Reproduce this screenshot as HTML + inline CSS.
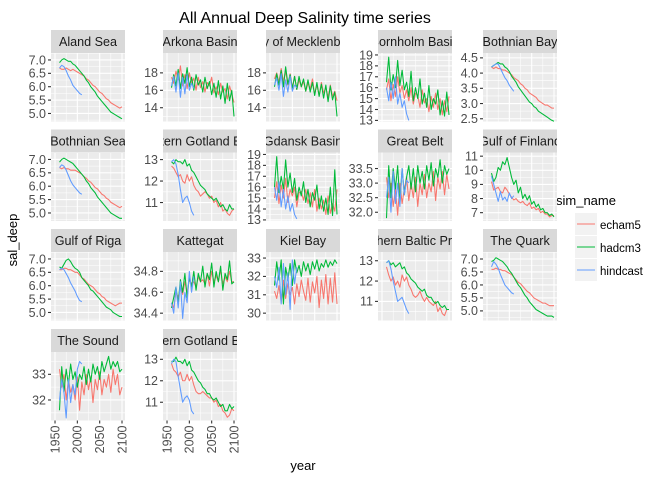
<!DOCTYPE html>
<html><head><meta charset="utf-8"><style>
html,body{margin:0;padding:0;background:#fff;}
svg{display:block;font-family:"Liberation Sans",Arial,sans-serif;}
</style></head><body>
<svg id="chart" width="672" height="480" viewBox="0 0 672 480">
<text x="305" y="23" text-anchor="middle" font-size="16" fill="#000">All Annual Deep Salinity time series</text>
<text transform="translate(17,240) rotate(-90)" text-anchor="middle" font-size="13" fill="#000">sal_deep</text>
<text x="303" y="470" text-anchor="middle" font-size="13" fill="#000">year</text>
<g>
<text x="556" y="205" font-size="13" fill="#000">sim_name</text>
<g><rect x="575" y="213" width="22" height="22" fill="#F2F2F2"/><line x1="577" x2="595" y1="224" y2="224" stroke="#F8766D" stroke-width="1.1"/><text x="600" y="229" font-size="11.5" fill="#000">echam5</text></g>
<g><rect x="575" y="236" width="22" height="22" fill="#F2F2F2"/><line x1="577" x2="595" y1="247" y2="247" stroke="#00BA38" stroke-width="1.1"/><text x="600" y="252" font-size="11.5" fill="#000">hadcm3</text></g>
<g><rect x="575" y="259" width="22" height="22" fill="#F2F2F2"/><line x1="577" x2="595" y1="270" y2="270" stroke="#619CFF" stroke-width="1.1"/><text x="600" y="275" font-size="11.5" fill="#000">hindcast</text></g>
</g>
</svg>
<script>
const years = [1960,1965,1970,1975,1980,1985,1990,1995,2000,2005,2010,2015,2020,2025,2030,2035,2040,2045,2050,2055,2060,2065,2070,2075,2080,2085,2090,2095,2100];
const hindYears = [1960,1965,1970,1975,1980,1985,1990,1995,2000,2005,2010];
const xTicks = [1950,2000,2050,2100];
const panelNames = ["Aland Sea","Arkona Basin","Bay of Mecklenburg","Bornholm Basin","Bothnian Bay","Bothnian Sea","Western Gotland Basin","Gdansk Basin","Great Belt","Gulf of Finland","Gulf of Riga","Kattegat","Kiel Bay","Northern Baltic Proper","The Quark","The Sound","Eastern Gotland Basin"];
const yDomains = [[4.70,7.26],[12.42,20.28],[12.42,20.28],[12.9,19.18],[2.41,4.66],[4.70,7.26],[10.14,13.33],[12.9,19.18],[31.7,34.05],[6.41,11.26],[4.70,7.26],[34.33,34.985],[29.6,33.33],[10.06,13.43],[4.63,7.27],[31.2,33.87],[10.15,13.34]];
const yTicks = [[5.0,5.5,6.0,6.5,7.0],[14,16,18],[14,16,18],[13,14,15,16,17,18,19],[2.5,3.0,3.5,4.0,4.5],[5.0,5.5,6.0,6.5,7.0],[11,12,13],[13,14,15,16,17,18,19],[32.0,32.5,33.0,33.5],[7,8,9,10,11],[5.0,5.5,6.0,6.5,7.0],[34.4,34.6,34.8],[30,31,32,33],[11,12,13],[5.0,5.5,6.0,6.5,7.0],[32,33],[11,12,13]];
const yTickLabels = [["5.0","5.5","6.0","6.5","7.0"],["14","16","18"],["14","16","18"],["13","14","15","16","17","18","19"],["2.5","3.0","3.5","4.0","4.5"],["5.0","5.5","6.0","6.5","7.0"],["11","12","13"],["13","14","15","16","17","18","19"],["32.0","32.5","33.0","33.5"],["7","8","9","10","11"],["5.0","5.5","6.0","6.5","7.0"],["34.4","34.6","34.8"],["30","31","32","33"],["11","12","13"],["5.0","5.5","6.0","6.5","7.0"],["32","33"],["11","12","13"]];
const echam5 = [
[6.7,6.65,6.65,6.7,6.65,6.6,6.65,6.6,6.55,6.5,6.45,6.4,6.3,6.25,6.15,6.05,6.0,5.9,5.8,5.75,5.65,5.55,5.5,5.4,5.35,5.3,5.25,5.2,5.25],
[17.5,16.8,18.2,17.2,18.8,16.5,17.8,16.2,18.0,16.8,17.4,16.0,17.5,16.3,17.0,15.8,16.9,16.5,17.5,15.7,16.4,15.5,16.8,15.8,16.2,15.0,16.5,15.6,14.6],
[17.3,18.0,16.9,18.5,17.0,18.2,16.6,17.9,16.3,17.6,16.1,17.2,16.4,17.0,15.9,16.8,16.2,17.3,15.6,16.6,15.4,16.9,15.7,16.3,15.2,16.6,15.3,15.9,14.8],
[15.8,16.8,14.8,16.3,15.2,17.0,15.5,16.2,15.0,15.8,14.8,16.0,14.5,15.5,15.3,14.2,15.8,14.6,15.0,13.8,15.2,14.2,15.5,14.0,15.0,13.5,14.8,13.8,15.2],
[4.2,4.15,4.2,4.15,4.15,4.1,4.1,4.05,4.0,3.95,3.85,3.8,3.75,3.65,3.6,3.5,3.45,3.35,3.3,3.25,3.2,3.1,3.05,3.0,2.95,2.95,2.9,2.85,2.85],
[6.7,6.65,6.7,6.65,6.65,6.6,6.6,6.6,6.55,6.5,6.45,6.35,6.3,6.2,6.15,6.05,5.95,5.9,5.8,5.7,5.65,5.55,5.5,5.4,5.35,5.3,5.25,5.2,5.25],
[12.7,12.6,12.4,12.2,12.3,12.0,11.9,12.3,12.0,12.2,11.8,11.6,11.5,11.3,11.4,11.5,11.4,11.2,11.3,11.0,11.1,10.8,11.0,10.6,10.7,10.5,10.4,10.6,10.7],
[15.0,16.5,14.5,16.2,15.0,16.8,14.6,15.8,15.2,16.0,14.2,15.5,15.6,14.8,15.8,14.5,15.5,14.2,15.8,13.8,15.0,14.0,14.8,13.5,15.2,13.6,14.5,13.8,15.8],
[33.2,32.5,33.0,32.2,32.8,31.9,33.0,32.3,32.8,33.2,32.4,33.0,32.5,33.2,32.2,33.0,32.6,33.3,32.5,33.0,32.7,33.4,32.4,33.2,32.8,33.4,32.6,33.3,32.8],
[9.2,8.6,8.7,8.8,8.5,8.4,8.8,8.6,8.3,8.1,7.9,8.0,7.8,7.7,7.8,7.6,7.5,7.7,7.3,7.4,7.2,7.3,7.0,7.1,6.9,6.9,6.7,6.8,6.8],
[6.6,6.6,6.65,6.65,6.6,6.6,6.55,6.5,6.5,6.4,6.3,6.25,6.15,6.05,6.0,5.95,5.85,5.75,5.7,5.6,5.55,5.45,5.4,5.35,5.3,5.25,5.3,5.35,5.35],
[34.5,34.45,34.6,34.55,34.65,34.58,34.7,34.6,34.72,34.68,34.7,34.65,34.75,34.7,34.72,34.68,34.78,34.66,34.8,34.7,34.76,34.7,34.82,34.68,34.75,34.7,34.8,34.7,34.7],
[31.2,30.8,31.5,30.6,31.8,30.8,31.6,31.0,31.4,30.5,31.6,30.9,31.8,31.2,30.7,31.9,30.6,31.7,31.1,32.0,30.3,31.8,30.8,32.1,30.5,31.9,30.6,32.2,30.5],
[12.7,12.3,12.0,12.2,11.8,12.0,11.7,12.3,12.0,12.2,11.8,11.6,11.3,11.2,11.3,11.5,11.2,11.0,11.2,11.0,10.9,10.8,11.0,10.5,10.7,10.4,10.3,10.6,10.6],
[6.6,6.6,6.65,6.6,6.6,6.55,6.55,6.5,6.45,6.4,6.3,6.2,6.1,6.05,5.95,5.85,5.75,5.7,5.6,5.5,5.45,5.4,5.35,5.3,5.3,5.25,5.2,5.2,5.2],
[33.2,32.5,33.0,32.0,32.8,32.3,32.6,32.0,32.9,31.6,32.7,32.2,33.0,32.4,32.9,31.9,32.8,32.4,33.1,32.2,32.8,32.5,33.0,32.3,33.2,32.6,33.0,32.2,32.5],
[12.8,12.5,12.4,12.2,12.4,12.0,12.0,12.3,12.0,12.2,11.8,11.5,11.4,11.4,11.5,11.4,11.3,11.2,11.2,11.0,11.1,10.8,10.9,10.6,10.5,10.3,10.4,10.7,10.6]];
const hadcm3 = [
[6.9,7.0,7.05,7.0,6.95,6.95,6.85,6.8,6.7,6.6,6.5,6.4,6.25,6.15,6.0,5.9,5.8,5.65,5.55,5.45,5.35,5.25,5.15,5.05,5.0,4.95,4.9,4.85,4.8],
[16.3,17.8,16.5,18.4,16.2,17.9,16.8,18.6,16.4,17.5,16.0,17.8,16.6,17.2,15.8,17.5,16.2,17.0,15.5,16.8,15.2,17.1,15.0,16.5,14.5,16.8,14.8,16.0,13.0],
[16.4,17.9,16.6,18.3,16.4,18.7,16.7,17.8,16.2,17.6,16.1,17.6,16.4,17.3,15.9,17.2,15.8,16.9,15.4,16.9,15.3,16.7,15.1,16.6,14.7,16.5,14.9,15.8,13.0],
[16.5,18.8,15.8,17.2,16.0,18.5,16.2,17.6,15.8,16.5,15.2,17.5,14.8,16.0,15.0,16.8,14.5,15.5,14.2,16.2,14.0,15.0,14.5,15.8,13.5,14.8,13.4,15.6,13.5],
[4.2,4.25,4.3,4.35,4.3,4.3,4.2,4.15,4.05,3.9,3.8,3.7,3.55,3.45,3.35,3.25,3.15,3.05,3.0,2.9,2.85,2.75,2.7,2.65,2.6,2.55,2.5,2.45,2.42],
[6.9,7.0,7.05,7.0,6.95,6.9,6.85,6.75,6.65,6.55,6.45,6.35,6.2,6.1,5.95,5.85,5.75,5.6,5.5,5.4,5.3,5.2,5.1,5.0,4.95,4.9,4.85,4.8,4.8],
[12.9,12.8,13.0,12.9,12.9,12.8,13.0,12.7,12.8,12.5,12.4,12.2,12.0,11.8,11.7,11.6,11.4,11.3,11.2,11.1,11.2,11.0,10.8,10.9,10.7,10.6,10.9,10.7,10.7],
[16.0,18.8,15.5,17.0,15.8,18.5,16.0,17.3,15.5,16.8,14.8,16.0,15.2,16.5,14.6,15.8,14.2,15.5,14.8,16.2,14.0,15.2,13.8,15.0,13.5,16.0,13.4,17.6,13.5],
[31.8,33.6,32.5,33.5,32.8,33.6,32.3,33.5,32.6,33.2,33.6,32.8,33.5,32.7,33.6,33.0,33.4,32.8,33.6,33.1,33.7,32.9,33.5,33.2,33.8,33.0,33.6,33.3,33.5],
[9.8,9.2,9.5,10.2,10.0,10.6,10.4,10.9,10.2,9.5,9.0,9.3,8.4,8.8,8.0,8.3,7.9,8.2,7.6,7.8,7.4,7.6,7.2,7.3,7.0,7.0,6.8,6.9,6.7],
[6.7,6.65,6.8,6.95,7.0,6.9,6.75,6.65,6.6,6.5,6.3,6.2,6.1,6.0,5.85,5.8,5.7,5.6,5.5,5.4,5.3,5.2,5.15,5.1,5.0,4.95,4.9,4.85,4.85],
[34.45,34.55,34.65,34.5,34.72,34.6,34.78,34.55,34.75,34.65,34.8,34.62,34.78,34.7,34.85,34.65,34.78,34.72,34.88,34.65,34.8,34.7,34.85,34.62,34.78,34.72,34.9,34.68,34.7],
[31.5,32.8,31.8,32.9,30.5,32.5,31.8,32.7,31.5,32.9,32.2,32.6,32.0,32.8,32.3,32.7,32.1,32.8,32.4,32.9,32.3,32.7,32.5,32.9,32.5,32.8,32.6,32.9,32.7],
[12.9,13.0,12.8,12.9,12.7,12.8,12.9,12.6,12.7,12.4,12.3,12.1,12.0,11.9,11.7,11.6,11.5,11.6,11.3,11.2,11.2,11.0,10.9,11.0,10.8,10.7,10.8,10.6,10.6],
[6.9,6.95,7.05,7.0,6.95,6.9,6.8,6.7,6.55,6.45,6.3,6.15,6.0,5.9,5.75,5.6,5.5,5.35,5.25,5.15,5.05,5.0,4.95,4.9,4.85,4.8,4.8,4.8,4.75],
[31.6,33.3,32.3,33.2,32.6,33.4,32.8,33.1,32.5,33.0,32.8,33.3,32.6,33.2,32.7,33.4,33.0,33.3,32.8,33.5,33.1,33.4,33.7,33.2,33.5,33.3,33.5,33.1,33.2],
[12.9,12.9,13.1,12.9,12.9,12.8,13.0,12.7,12.9,12.5,12.4,12.2,12.0,11.9,11.7,11.6,11.4,11.4,11.2,11.1,11.2,11.0,10.8,10.9,10.6,10.6,10.9,10.7,10.8]];
const hindcast = [
[6.7,6.8,6.75,6.6,6.4,6.25,6.05,5.95,5.85,5.75,5.7],
[16.5,17.6,15.8,18.0,15.2,17.5,15.6,17.8,16.0,16.8,16.2],
[16.6,17.4,16.0,17.9,15.3,17.2,15.8,17.6,15.9,16.6,16.3],
[16.0,14.8,16.5,15.0,17.0,14.5,15.5,14.2,14.8,13.6,13.0],
[4.2,4.25,4.3,4.3,4.15,4.0,3.85,3.75,3.6,3.5,3.4],
[6.7,6.8,6.75,6.6,6.4,6.2,6.05,5.95,5.85,5.75,5.7],
[12.9,13.0,12.8,12.3,11.6,11.0,11.2,11.3,11.0,10.6,10.4],
[16.0,14.8,16.5,14.2,15.8,14.0,15.2,13.8,14.5,13.5,13.1],
[32.5,33.2,32.0,33.4,32.3,33.0,32.2,33.5,32.6,33.1,33.0],
[9.6,9.0,8.4,7.8,8.5,7.9,8.1,7.8,8.4,8.0,8.2],
[6.6,6.65,6.6,6.45,6.3,6.1,5.95,5.8,5.6,5.45,5.4],
[34.5,34.4,34.65,34.45,34.7,34.35,34.6,34.5,34.8,34.6,34.75],
[32.0,31.4,32.5,30.5,32.7,31.0,32.2,30.2,32.9,31.6,32.5],
[12.9,13.0,12.6,12.0,11.5,11.0,11.1,11.2,10.9,10.6,10.4],
[6.7,6.9,6.8,6.65,6.4,6.2,6.0,5.9,5.8,5.7,5.65],
[32.0,32.8,32.3,31.3,32.8,31.9,32.6,32.2,33.2,33.5,33.4],
[12.8,13.0,12.9,12.2,11.6,11.0,11.2,11.3,11.1,10.6,10.45]];

const NS = "http://www.w3.org/2000/svg";
const svg = document.getElementById("chart");
const colX = [51,163,266,378,483];
const rowY = [30,129.5,229,329];
const PW = 74, SH = 23, PH = 68.5;
const X0 = 1941, X1 = 2106.7;
function mk(tag, attrs, parent){ const e=document.createElementNS(NS,tag); for(const k in attrs) e.setAttribute(k,attrs[k]); (parent||svg).appendChild(e); return e; }
function slug(s){ return s.toLowerCase().replace(/[^a-z0-9]+/g,'-'); }

panelNames.forEach((name,i)=>{
  const c=i%5, r=Math.floor(i/5);
  const px=colX[c], sy=rowY[r], py=sy+SH;
  const g=mk("g",{});
  
  
  const xs = v => px + (v-X0)/(X1-X0)*PW;
  const [d0,d1]=yDomains[i];
  const ys = v => py + PH - (v-d0)/(d1-d0)*PH;
  const strip=mk("svg",{x:px,y:sy,width:PW,height:SH},g);
  
  
  mk("rect",{x:0,y:0,width:PW,height:SH,fill:"#D9D9D9"},strip);
  const st=mk("text",{x:PW/2,y:16,"text-anchor":"middle","font-size":"12.6",fill:"#1A1A1A"},strip);
  st.textContent=name;
  mk("rect",{x:px,y:py,width:PW,height:PH,fill:"#EBEBEB"},g);
  for(let k=0;k<xTicks.length;k++){
    const mid = xTicks[k]+25;
    if(xs(mid)<px+PW) mk("line",{x1:xs(mid),x2:xs(mid),y1:py,y2:py+PH,stroke:"#fff","stroke-width":0.55},g);
    mk("line",{x1:xs(xTicks[k]),x2:xs(xTicks[k]),y1:py,y2:py+PH,stroke:"#fff","stroke-width":1.1},g);
  }
  mk("line",{x1:xs(1925),x2:xs(1925),y1:py,y2:py+PH,stroke:"#fff","stroke-width":0.55},g);
  const t=yTicks[i], step=t[1]-t[0];
  for(let v=t[0]-step/2; v<=t[t.length-1]+step; v+=step){
    const yy=ys(v); if(yy>=py&&yy<=py+PH) mk("line",{x1:px,x2:px+PW,y1:yy,y2:yy,stroke:"#fff","stroke-width":0.55},g);
  }
  t.forEach((v,k)=>{
    const yy=ys(v);
    mk("line",{x1:px,x2:px+PW,y1:yy,y2:yy,stroke:"#fff","stroke-width":1.1},g);
    mk("line",{x1:px-3,x2:px,y1:yy,y2:yy,stroke:"#333","stroke-width":1.1},g);
    const tl=mk("text",{x:px-5,y:yy+4.3,"text-anchor":"end","font-size":"12.5",fill:"#4D4D4D"},g);
    
    
    tl.textContent=yTickLabels[i][k];
  });
  const series=[[echam5[i],years,"#F8766D","echam5"],[hadcm3[i],years,"#00BA38","hadcm3"],[hindcast[i],hindYears,"#619CFF","hindcast"]];
  series.forEach(([vals,yrs,col,nm])=>{
    const pts=vals.map((v,k)=>xs(yrs[k]).toFixed(2)+","+ys(v).toFixed(2)).join(" ");
    const pl=mk("polyline",{points:pts,fill:"none",stroke:col,"stroke-width":1.07,"stroke-linejoin":"round"},g);
    
    
  });
  if(r===3){
    xTicks.forEach(v=>{
      const xx=xs(v);
      mk("line",{x1:xx,x2:xx,y1:py+PH,y2:py+PH+3,stroke:"#333","stroke-width":1.1},g);
      const xl=mk("text",{transform:`translate(${xx+4.3},${py+PH+5}) rotate(-90)`,"text-anchor":"end","font-size":"12.5",fill:"#4D4D4D"},g);
      
      
      xl.textContent=String(v);
    });
  }
});
</script>
</body></html>
